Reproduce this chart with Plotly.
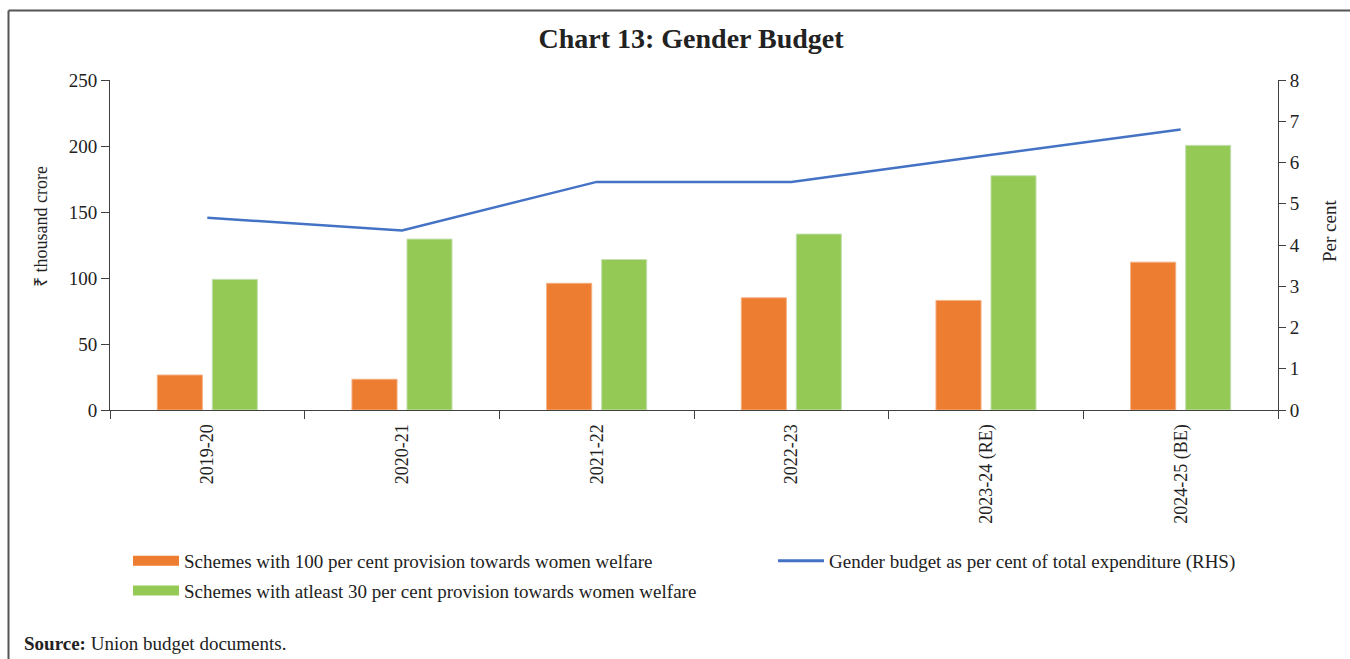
import plotly.graph_objects as go

years = ["2019-20", "2020-21", "2021-22", "2022-23", "2023-24 (RE)", "2024-25 (BE)"]
schemes_100 = [26.5, 23.3, 96, 85, 83, 112]
schemes_30 = [99, 129.5, 114, 133.3, 177.5, 200.5]
gender_pct = [4.66, 4.35, 5.53, 5.53, 6.17, 6.80]

name_100 = "Schemes with 100 per cent provision towards women welfare"
name_30 = "Schemes with atleast 30 per cent provision towards women welfare"
name_line = "Gender budget as per cent of total expenditure (RHS)"

ORANGE = "#ED7D31"
GREEN = "#95C955"
BLUE = "#4472C4"
AXIS = "#404040"
FONT = "Liberation Serif"

W, H = 1350, 659
L, R, T, B = 110, 72, 80, 249
pw, ph = W - L - R, H - T - B


def px(x):
    # pixel x -> paper x
    return (x - L) / pw


def py(y):
    # pixel y (from top) -> paper y
    return (H - B - y) / ph


fig = go.Figure()

fig.add_trace(go.Bar(x=years, y=schemes_100, name=name_100, showlegend=False,
                     marker=dict(color=ORANGE, line=dict(color="#F4B183", width=1))))
fig.add_trace(go.Bar(x=years, y=schemes_30, name=name_30, showlegend=False,
                     marker=dict(color=GREEN, line=dict(color="#C5E0B4", width=1))))
fig.add_trace(go.Scatter(x=years, y=gender_pct, name=name_line, yaxis="y2", mode="lines",
                         line=dict(color=BLUE, width=2.5), showlegend=False))

# legend entries with wide swatches like the original
fig.add_trace(go.Scatter(x=[None], y=[None], name=name_100, mode="lines", legendgroup="a",
                         line=dict(color=ORANGE, width=10)))
fig.add_trace(go.Scatter(x=[None], y=[None], name=name_30, mode="lines", legendgroup="b",
                         line=dict(color=GREEN, width=10)))
fig.add_trace(go.Scatter(x=[None], y=[None], name=name_line, mode="lines", legend="legend2",
                         line=dict(color=BLUE, width=3)))

border = dict(type="line", xref="paper", yref="paper", line=dict(color="#555555", width=2))

fig.update_layout(
    width=W, height=H,
    margin=dict(l=L, r=R, t=T, b=B),
    paper_bgcolor="white", plot_bgcolor="white",
    font=dict(family=FONT, size=18, color="#222222"),
    barmode="group", bargap=0.435, bargroupgap=0.18,
    title=dict(text="<b>Chart 13: Gender Budget</b>", xref="paper", x=px(691), xanchor="center",
               y=1 - 38 / H, yanchor="middle", font=dict(size=28, color="#222222")),
    xaxis=dict(type="category", showline=True, linecolor=AXIS, ticks="outside", tickson="boundaries",
               ticklen=8, tickcolor=AXIS, tickangle=-90, showgrid=False, tickfont=dict(size=18),
               ticklabelstandoff=6),
    yaxis=dict(range=[0, 250], dtick=50, showline=True, linecolor=AXIS, ticks="outside", ticklen=8,
               tickcolor=AXIS, showgrid=False, zeroline=False, tickfont=dict(size=19)),
    yaxis2=dict(range=[0, 8], dtick=1, overlaying="y", side="right", showline=True, linecolor=AXIS,
                ticks="outside", ticklen=7, tickcolor=AXIS, showgrid=False, zeroline=False,
                tickfont=dict(size=19)),
    legend=dict(x=px(128), y=py(542), xanchor="left", yanchor="top", traceorder="grouped",
                tracegroupgap=2, itemwidth=46, font=dict(size=19), bgcolor="rgba(0,0,0,0)"),
    legend2=dict(x=px(773), y=py(542), xanchor="left", yanchor="top", itemwidth=46,
                 font=dict(size=19), bgcolor="rgba(0,0,0,0)"),
    shapes=[
        dict(border, x0=px(8.5), x1=px(8.5), y0=py(700), y1=py(10.5)),
        dict(border, x0=px(8.5), x1=px(1400), y0=py(10.5), y1=py(10.5)),
    ],
    annotations=[
        dict(text="₹ thousand crore", textangle=-90, x=px(41), y=py(227), xref="paper", yref="paper",
             xanchor="center", yanchor="middle", showarrow=False, font=dict(size=18)),
        dict(text="Per cent", textangle=-90, x=px(1330), y=py(231), xref="paper", yref="paper",
             xanchor="center", yanchor="middle", showarrow=False, font=dict(size=19)),
        dict(text="<b>Source:</b> Union budget documents.", x=px(22), y=py(643), xref="paper", yref="paper",
             xanchor="left", yanchor="middle", showarrow=False, font=dict(size=19)),
    ],
)

fig.write_html("out.html", config={"displayModeBar": False},
               post_script="document.body.style.margin='0'; document.body.style.overflow='hidden';")
